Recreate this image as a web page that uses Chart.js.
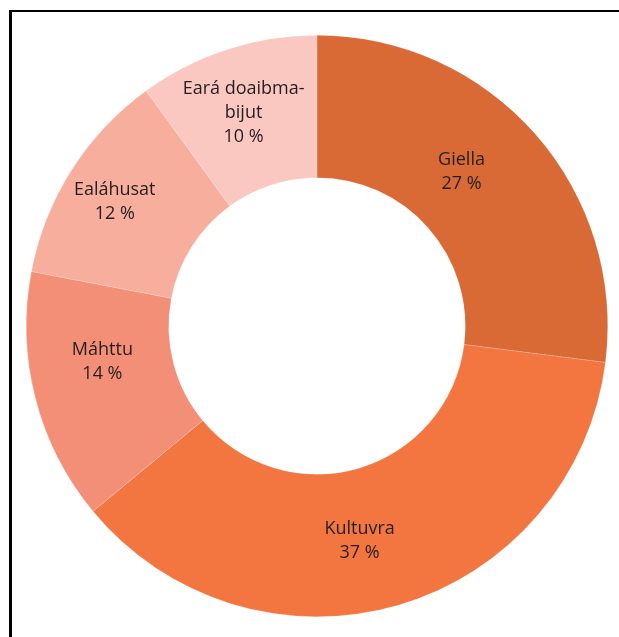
<!DOCTYPE html>
<html>
<head>
<meta charset="utf-8">
<script src="https://cdn.jsdelivr.net/npm/chart.js@4/dist/chart.umd.min.js"></script>
<style>
  html, body { margin: 0; padding: 0; background: #fff; overflow: hidden; }
  #frame {
    position: absolute; left: 9px; top: 10px; width: 700px; height: 700px;
    border-left: 3px solid #000; border-top: 2px solid #000;
  }
  #wrap { position: absolute; left: 0; top: 0; width: 619px; height: 637px; }
</style>
</head>
<body>
<div id="frame"></div>
<div id="wrap"><canvas id="donut"></canvas></div>
<script>
// categories, clockwise from 12 o'clock
const categories = ['Giella', 'Kultuvra', 'Máhttu', 'Ealáhusat', ['Eará doaibma-', 'bijut']];
const shares = [27, 37, 14, 12, 10];
const sliceColors = ['#d96a35', '#f37641', '#f48f77', '#f7ae9c', '#fac8c0'];

// small nudges so labels sit where the original puts them (degrees, px)
const labelAngleNudge = [-5.5, 5, 5, -0.8, -1];
const labelRadiusNudge = [-8, 0, -2, 18, 6];

const sliceLabels = {
    id: 'sliceLabels',
    afterDatasetsDraw(chart) {
        const ctx = chart.ctx;
        const meta = chart.getDatasetMeta(0);
        ctx.save();
        ctx.font = '18px "Open Sans"';
        ctx.fillStyle = '#231f20';
        ctx.textAlign = 'center';
        ctx.textBaseline = 'middle';
        meta.data.forEach((arc, i) => {
            const p = arc.getProps(['x', 'y', 'startAngle', 'endAngle', 'innerRadius', 'outerRadius'], true);
            const mid = (p.startAngle + p.endAngle) / 2 + labelAngleNudge[i] * Math.PI / 180;
            const r = (p.innerRadius + p.outerRadius) / 2 + labelRadiusNudge[i];
            const cx = p.x + Math.cos(mid) * r;
            const cy = p.y + Math.sin(mid) * r;
            const lines = [].concat(categories[i], shares[i] + ' %');
            const lh = 24;
            const top = cy - (lines.length - 1) * lh / 2;
            lines.forEach((t, j) => ctx.fillText(t, cx, top + j * lh));
        });
        ctx.restore();
    }
};

new Chart(document.getElementById('donut'), {
    type: 'doughnut',
    data: {
        labels: categories,
        datasets: [{
            data: shares,
            backgroundColor: sliceColors,
            borderColor: 'rgba(255,255,255,0.35)',
            borderWidth: 0.5
        }]
    },
    options: {
        responsive: true,
        maintainAspectRatio: false,
        animation: false,
        cutout: '51%',
        layout: { padding: { left: 26, right: 11, top: 35, bottom: 20 } },
        plugins: {
            legend: { display: false },
            tooltip: { enabled: false }
        }
    },
    plugins: [sliceLabels]
});
</script>
</body>
</html>
